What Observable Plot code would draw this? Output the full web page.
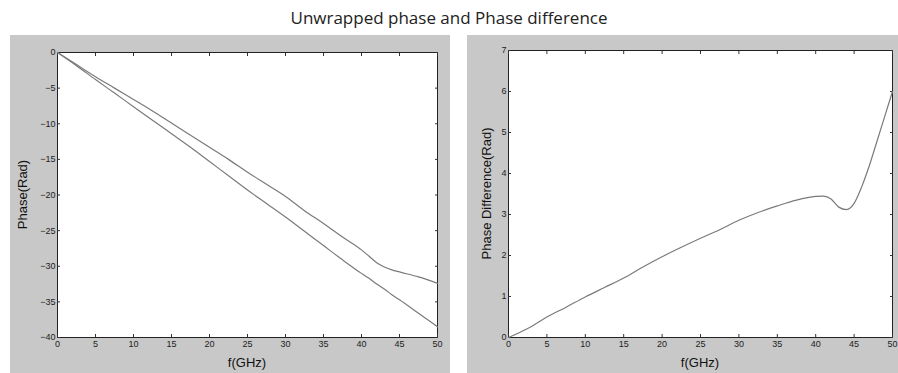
<!DOCTYPE html>
<html>
<head>
<meta charset="utf-8">
<script src="https://cdn.jsdelivr.net/npm/d3@7"></script>
<script src="https://cdn.jsdelivr.net/npm/@observablehq/plot@0.6"></script>
<style>
  html, body { margin: 0; padding: 0; background: #ffffff; }
  #root { position: relative; width: 898px; height: 373px; overflow: hidden; font-family: "Open Sans", "Noto Sans", sans-serif; }
  #title { position: absolute; left: 0; top: 6px; width: 898px; text-align: center; font-size: 17px; color: #222; font-family: "Open Sans", sans-serif; }
  .panel { position: absolute; background: #c8c8c8; }
  .panel svg { display: block; }
</style>
</head>
<body>
<div id="root">
  <div id="title">Unwrapped phase and Phase difference</div>
  <div class="panel" id="left" style="left:10px; top:35px; width:440px; height:338px;"></div>
  <div class="panel" id="right" style="left:467px; top:35px; width:431px; height:338px;"></div>
</div>
<script>
// Frequencies (GHz) for the unwrapped phase curves
const freqPhase = [0, 2.5, 5, 7.5, 10, 12.5, 15, 17.5, 20, 22.5, 25, 27.5, 30, 32.5, 35, 37.5, 40, 41, 42, 43, 44, 45, 47.5, 50];
// Lower (steeper) unwrapped phase curve (Rad)
const phaseA = [0, -1.85, -3.8, -5.7, -7.6, -9.5, -11.4, -13.3, -15.3, -17.3, -19.3, -21.2, -23.1, -25.1, -27.1, -29.1, -31.0, -31.7, -32.5, -33.2, -34.0, -34.7, -36.6, -38.5];
// Upper unwrapped phase curve (Rad)
const phaseB = [0, -1.7, -3.4, -5.0, -6.6, -8.2, -9.9, -11.6, -13.3, -15.0, -16.8, -18.5, -20.2, -22.2, -24.0, -25.9, -27.7, -28.6, -29.5, -30.1, -30.5, -30.8, -31.5, -32.4];

// Frequencies (GHz) for the phase difference curve
const freqDiff = [0, 2.5, 5, 7.5, 10, 12.5, 15, 17.5, 20, 22.5, 25, 27.5, 30, 32.5, 35, 37.5, 40, 41, 42, 43, 44, 45, 46, 47, 48, 49, 50];
// Phase difference (Rad)
const phaseDiff = [0, 0.22, 0.5, 0.74, 0.99, 1.22, 1.45, 1.72, 1.97, 2.2, 2.42, 2.63, 2.86, 3.05, 3.21, 3.35, 3.44, 3.45, 3.38, 3.18, 3.12, 3.27, 3.68, 4.2, 4.8, 5.4, 6.0];

// Tick labels
const xTicks = [0, 5, 10, 15, 20, 25, 30, 35, 40, 45, 50];
const yTicksPhase = [0, -5, -10, -15, -20, -25, -30, -35, -40];
const yTicksDiff = [0, 1, 2, 3, 4, 5, 6, 7];

const tickFont = 9;
const lineColor = "#7a7a7a";

function axes(yTicks) {
  return [
    Plot.frame({stroke: "#222", strokeWidth: 1, fill: "white"}),
    Plot.axisX({ticks: xTicks, tickSize: -3, tickPadding: 6, fontSize: tickFont, label: null, stroke: "#333", tickFormat: d => String(d).replace("-", "−")}),
    Plot.axisX({anchor: "top", ticks: xTicks, tickSize: -3, tickFormat: () => "", label: null, stroke: "#333"}),
    Plot.axisY({ticks: yTicks, tickSize: -3, tickPadding: 5, fontSize: tickFont, label: null, stroke: "#333", tickFormat: d => String(d).replace("-", "−")}),
    Plot.axisY({anchor: "right", ticks: yTicks, tickSize: -3, tickFormat: () => "", label: null, stroke: "#333"})
  ];
}

function addLabels(svg, xLabel, yLabel, xc, yc, yLabelX, h) {
  const ns = "http://www.w3.org/2000/svg";
  const t1 = document.createElementNS(ns, "text");
  t1.setAttribute("x", xc); t1.setAttribute("y", h - 6);
  t1.setAttribute("text-anchor", "middle");
  t1.setAttribute("font-size", "13"); t1.setAttribute("font-family", "Liberation Sans, Arial, sans-serif");
  t1.setAttribute("fill", "#111");
  t1.textContent = xLabel;
  svg.appendChild(t1);
  const t2 = document.createElementNS(ns, "text");
  t2.setAttribute("transform", `translate(${yLabelX},${yc}) rotate(-90)`);
  t2.setAttribute("text-anchor", "middle");
  t2.setAttribute("font-size", "13"); t2.setAttribute("font-family", "Liberation Sans, Arial, sans-serif");
  t2.setAttribute("fill", "#111");
  t2.textContent = yLabel;
  svg.appendChild(t2);
}

// Left chart
const leftData = [
  ...freqPhase.map((f, i) => ({f, v: phaseA[i], s: "A"})),
  ...freqPhase.map((f, i) => ({f, v: phaseB[i], s: "B"}))
];
const ml = {left: 47, right: 13, top: 17, bottom: 36};
const leftPlot = Plot.plot({
  width: 440, height: 338,
  marginLeft: ml.left, marginRight: ml.right, marginTop: ml.top, marginBottom: ml.bottom,
  style: {background: "transparent", fontFamily: "Liberation Sans, Arial, sans-serif", color: "#222"},
  x: {domain: [0, 50]},
  y: {domain: [-40, 0]},
  marks: [
    ...axes(yTicksPhase),
    Plot.line(leftData, {x: "f", y: "v", z: "s", stroke: lineColor, strokeWidth: 1.2, curve: "monotone-x"})
  ]
});
addLabels(leftPlot, "f(GHz)", "Phase(Rad)", ml.left + (440 - ml.left - ml.right) / 2, ml.top + (338 - ml.top - ml.bottom) / 2, 17, 338);
document.getElementById("left").appendChild(leftPlot);

// Right chart
const rightData = freqDiff.map((f, i) => ({f, v: phaseDiff[i]}));
const mr = {left: 41, right: 6, top: 15, bottom: 36};
const rightPlot = Plot.plot({
  width: 431, height: 338,
  marginLeft: mr.left, marginRight: mr.right, marginTop: mr.top, marginBottom: mr.bottom,
  style: {background: "transparent", fontFamily: "Liberation Sans, Arial, sans-serif", color: "#222"},
  x: {domain: [0, 50]},
  y: {domain: [0, 7]},
  marks: [
    ...axes(yTicksDiff),
    Plot.line(rightData, {x: "f", y: "v", stroke: lineColor, strokeWidth: 1.2, curve: "monotone-x"})
  ]
});
addLabels(rightPlot, "f(GHz)", "Phase Difference(Rad)", mr.left + (431 - mr.left - mr.right) / 2, mr.top + (338 - mr.top - mr.bottom) / 2, 24, 338);
document.getElementById("right").appendChild(rightPlot);
</script>
</body>
</html>
